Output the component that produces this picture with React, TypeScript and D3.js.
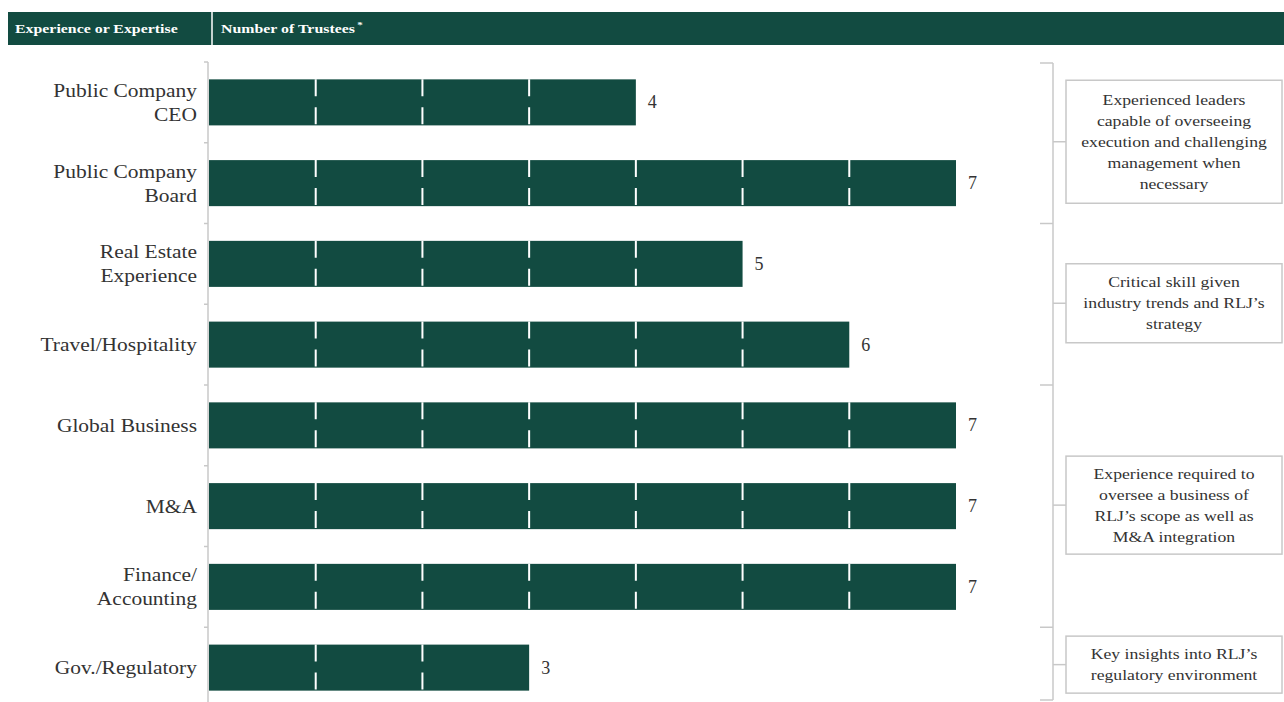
import React, { useRef, useEffect } from 'react';
import * as d3 from 'd3';

// Categories (label lines) and values
const categories = [
  'Public Company CEO',
  'Public Company Board',
  'Real Estate Experience',
  'Travel/Hospitality',
  'Global Business',
  'M&A',
  'Finance/ Accounting',
  'Gov./Regulatory',
];
const categoryLines = [
  ['Public Company', 'CEO'],
  ['Public Company', 'Board'],
  ['Real Estate', 'Experience'],
  ['Travel/Hospitality'],
  ['Global Business'],
  ['M&A'],
  ['Finance/', 'Accounting'],
  ['Gov./Regulatory'],
];
const trustees = [4, 7, 5, 6, 7, 7, 7, 3];

// Right-hand groups: first and last category index, box text
const groupStart = [0, 2, 4, 7];
const groupEnd = [1, 3, 6, 7];
const groupText = [
  ['Experienced leaders', 'capable of overseeing', 'execution and challenging', 'management when', 'necessary'],
  ['Critical skill given', 'industry trends and RLJ\u2019s', 'strategy'],
  ['Experience required to', 'oversee a business of', 'RLJ\u2019s scope as well as', 'M&A integration'],
  ['Key insights into RLJ\u2019s', 'regulatory environment'],
];

const headerLeft = 'Experience or Expertise';
const headerRight = 'Number of Trustees';

const App: React.FC = () => {
  const svgRef = useRef<SVGSVGElement>(null);

  useEffect(() => {
    if (!svgRef.current) return;
    const svg = d3.select(svgRef.current);
    svg.selectAll('*').remove();

    const green = '#124b41';
    const serif = '"Liberation Serif", "Times New Roman", serif';
    const textColor = '#333';

    // Header band
    svg.append('rect')
      .attr('x', 8).attr('y', 12).attr('width', 1276).attr('height', 33)
      .attr('fill', green);
    svg.append('line')
      .attr('x1', 212).attr('x2', 212).attr('y1', 12).attr('y2', 45)
      .attr('stroke', '#fff').attr('stroke-width', 1.5);
    svg.append('text')
      .attr('transform', 'translate(15,33) scale(1.22,1)')
      .attr('font-family', serif).attr('font-weight', 'bold').attr('font-size', 13)
      .attr('fill', '#fff')
      .text(headerLeft);
    const hr = svg.append('text')
      .attr('transform', 'translate(221,33) scale(1.22,1)')
      .attr('font-family', serif).attr('font-weight', 'bold').attr('font-size', 13)
      .attr('fill', '#fff');
    hr.append('tspan').text(headerRight);
    hr.append('tspan').attr('dy', -5).attr('dx', 2).attr('font-size', 9).text('*');

    // Scales
    const x = d3.scaleLinear().domain([0, 7]).range([209, 956]);
    const y = d3.scaleBand<string>()
      .domain(categories)
      .range([62, 708])
      .paddingInner(0.43)
      .paddingOuter(0.215);
    const step = y.step();
    const rowTop = (i: number) => 62 + i * step;

    // Y axis line + ticks between rows
    const axis = svg.append('g');
    axis.append('line')
      .attr('x1', 208).attr('x2', 208).attr('y1', 62).attr('y2', 702)
      .attr('stroke', '#c8c8c8').attr('stroke-width', 1.5);
    d3.range(0, categories.length).forEach(i => {
      axis.append('line')
        .attr('x1', 204).attr('x2', 208)
        .attr('y1', rowTop(i)).attr('y2', rowTop(i))
        .attr('stroke', '#c8c8c8').attr('stroke-width', 1.5);
    });

    // Category labels (slightly stretched like the source)
    categories.forEach((c, i) => {
      const lines = categoryLines[i];
      const cy = (y(c) || 0) + y.bandwidth() / 2;
      const lh = 24;
      const t = svg.append('text')
        .attr('transform', 'translate(197,0) scale(1.13,1)')
        .attr('text-anchor', 'end')
        .attr('font-family', serif).attr('font-size', 19)
        .attr('fill', textColor);
      lines.forEach((l, k) => {
        t.append('tspan')
          .attr('x', 0)
          .attr('y', cy + (k - (lines.length - 1) / 2) * lh + 6.5)
          .text(l);
      });
    });

    // Bars
    const bars = svg.append('g');
    bars.selectAll('rect')
      .data(trustees)
      .enter()
      .append('rect')
      .attr('x', x(0))
      .attr('y', (d, i) => y(categories[i]) || 0)
      .attr('width', d => x(d) - x(0))
      .attr('height', y.bandwidth())
      .attr('fill', green);

    // Unit dividers inside bars (dashed white)
    trustees.forEach((v, i) => {
      const top = y(categories[i]) || 0;
      d3.range(1, v).forEach(k => {
        bars.append('line')
          .attr('x1', x(k)).attr('x2', x(k))
          .attr('y1', top).attr('y2', top + y.bandwidth())
          .attr('stroke', '#ffffff').attr('stroke-width', 2)
          .attr('stroke-dasharray', '17 11');
      });
    });

    // Value labels
    svg.append('g').selectAll('text')
      .data(trustees)
      .enter()
      .append('text')
      .attr('x', d => x(d) + 12)
      .attr('y', (d, i) => (y(categories[i]) || 0) + y.bandwidth() / 2 + 6)
      .attr('font-family', serif).attr('font-size', 18)
      .attr('fill', textColor)
      .text(d => d);

    // Brackets and boxes
    const bx = 1053;
    const br = svg.append('g').attr('stroke', '#c8c8c8').attr('stroke-width', 1.5).attr('fill', 'none');
    br.append('line').attr('x1', bx).attr('x2', bx).attr('y1', 63).attr('y2', 700);
    const bounds = [63, ...groupEnd.slice(0, -1).map(e => rowTop(e + 1)), 700];
    bounds.forEach(b => {
      br.append('line').attr('x1', 1040).attr('x2', bx).attr('y1', b).attr('y2', b);
    });

    const boxHeights = [123, 79, 98, 57];
    groupText.forEach((lines, gi) => {
      const c0 = (y(categories[groupStart[gi]]) || 0) + y.bandwidth() / 2;
      const c1 = (y(categories[groupEnd[gi]]) || 0) + y.bandwidth() / 2;
      const cy = gi === groupText.length - 1 ? c0 - 3 : (c0 + c1) / 2 - 1;
      br.append('line').attr('x1', bx).attr('x2', 1066).attr('y1', cy).attr('y2', cy);
      const h = boxHeights[gi];
      svg.append('rect')
        .attr('x', 1066).attr('y', cy - h / 2)
        .attr('width', 216).attr('height', h)
        .attr('fill', '#fff').attr('stroke', '#c8c8c8').attr('stroke-width', 1.5);
      const lh = 21;
      const t = svg.append('text')
        .attr('transform', 'translate(1174,0) scale(1.18,1)')
        .attr('text-anchor', 'middle')
        .attr('font-family', serif).attr('font-size', 15)
        .attr('fill', textColor);
      lines.forEach((l, k) => {
        t.append('tspan')
          .attr('x', 0)
          .attr('y', cy + (k - (lines.length - 1) / 2) * lh + 5)
          .text(l);
      });
    });
  }, []);

  return (
    <svg
      ref={svgRef}
      width={1284}
      height={702}
      style={{ position: 'absolute', left: 0, top: 0, background: '#fff' }}
    />
  );
};

export default App;
